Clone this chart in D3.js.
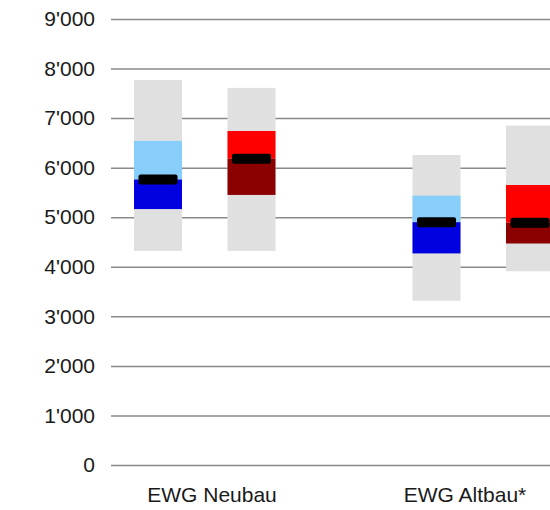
<!DOCTYPE html>
<html>
<head>
<meta charset="utf-8">
<script src="https://cdn.jsdelivr.net/npm/d3@7"></script>
<style>
  html, body { margin: 0; padding: 0; background: #fff; }
  svg { display: block; }
</style>
</head>
<body>
<svg id="chart" width="550" height="510"></svg>
<script>
// ---- data ----
const categories = ["EWG Neubau", "EWG Altbau*"];
const series = ["blau", "rot"];
const minVals    = { blau: [4320, 3315], rot: [4320, 3910] };
const q1Vals     = { blau: [5165, 4270], rot: [5450, 4470] };
const medianVals = { blau: [5760, 4900], rot: [6180, 4890] };
const q3Vals     = { blau: [6540, 5435], rot: [6740, 5650] };
const maxVals    = { blau: [7770, 6255], rot: [7610, 6850] };
const yTicks = [0, 1000, 2000, 3000, 4000, 5000, 6000, 7000, 8000, 9000];

// ---- styles ----
const rangeColor = "#e0e0e0";
const upperColor = { blau: "#87cefa", rot: "#ff0000" };
const lowerColor = { blau: "#0000e0", rot: "#8b0000" };
const fontFamily = "'Liberation Sans', Arial, sans-serif";

const svg = d3.select("#chart");

const y = d3.scaleLinear().domain([0, 9000]).range([465, 19]);
const x = d3.scalePoint().domain(categories).range([204.75, 483.25]);
const xLabel = d3.scalePoint().domain(categories).range([212, 465]);
const inner = d3.scaleBand().domain(series).range([-70.75, 70.75])
  .paddingInner(0.4866).paddingOuter(0);

// gridlines + y labels via axis
const yAxis = d3.axisLeft(y)
  .tickValues(yTicks)
  .tickSize(-460)
  .tickPadding(16)
  .tickFormat(d => d3.format(",")(d).replace(/,/g, "'"));

const gy = svg.append("g")
  .attr("transform", "translate(111,0)")
  .call(yAxis);
gy.select(".domain").remove();
gy.selectAll(".tick line")
  .attr("stroke", "#8a8a8a")
  .attr("stroke-width", 1.5);
gy.selectAll(".tick text")
  .attr("x", -16)
  .attr("fill", "#1a1a1a")
  .style("font-family", fontFamily)
  .style("font-size", "21px");

// boxes
const rows = [];
categories.forEach((c, i) => {
  series.forEach(s => {
    rows.push({
      cat: c, s,
      min: minVals[s][i], q1: q1Vals[s][i], med: medianVals[s][i],
      q3: q3Vals[s][i], max: maxVals[s][i]
    });
  });
});

const bw = inner.bandwidth();
const g = svg.append("g");
const box = g.selectAll("g.box").data(rows).join("g")
  .attr("class", "box")
  .attr("transform", d => `translate(${x(d.cat) + inner(d.s)},0)`);

box.append("rect")
  .attr("x", 0).attr("width", bw)
  .attr("y", d => y(d.max))
  .attr("height", d => y(d.min) - y(d.max))
  .attr("fill", rangeColor);

box.append("rect")
  .attr("x", 0).attr("width", bw)
  .attr("y", d => y(d.q3))
  .attr("height", d => y(d.med) - y(d.q3))
  .attr("fill", d => upperColor[d.s]);

box.append("rect")
  .attr("x", 0).attr("width", bw)
  .attr("y", d => y(d.med))
  .attr("height", d => y(d.q1) - y(d.med))
  .attr("fill", d => lowerColor[d.s]);

box.append("rect")
  .attr("x", 4.5).attr("width", bw - 9)
  .attr("y", d => y(d.med) - 5)
  .attr("height", 10)
  .attr("rx", 2)
  .attr("fill", "#000");

// category labels
svg.append("g").selectAll("text").data(categories).join("text")
  .attr("x", d => xLabel(d))
  .attr("y", 502)
  .attr("text-anchor", "middle")
  .attr("fill", "#1a1a1a")
  .style("font-family", fontFamily)
  .style("font-size", "21px")
  .text(d => d);
</script>
</body>
</html>
